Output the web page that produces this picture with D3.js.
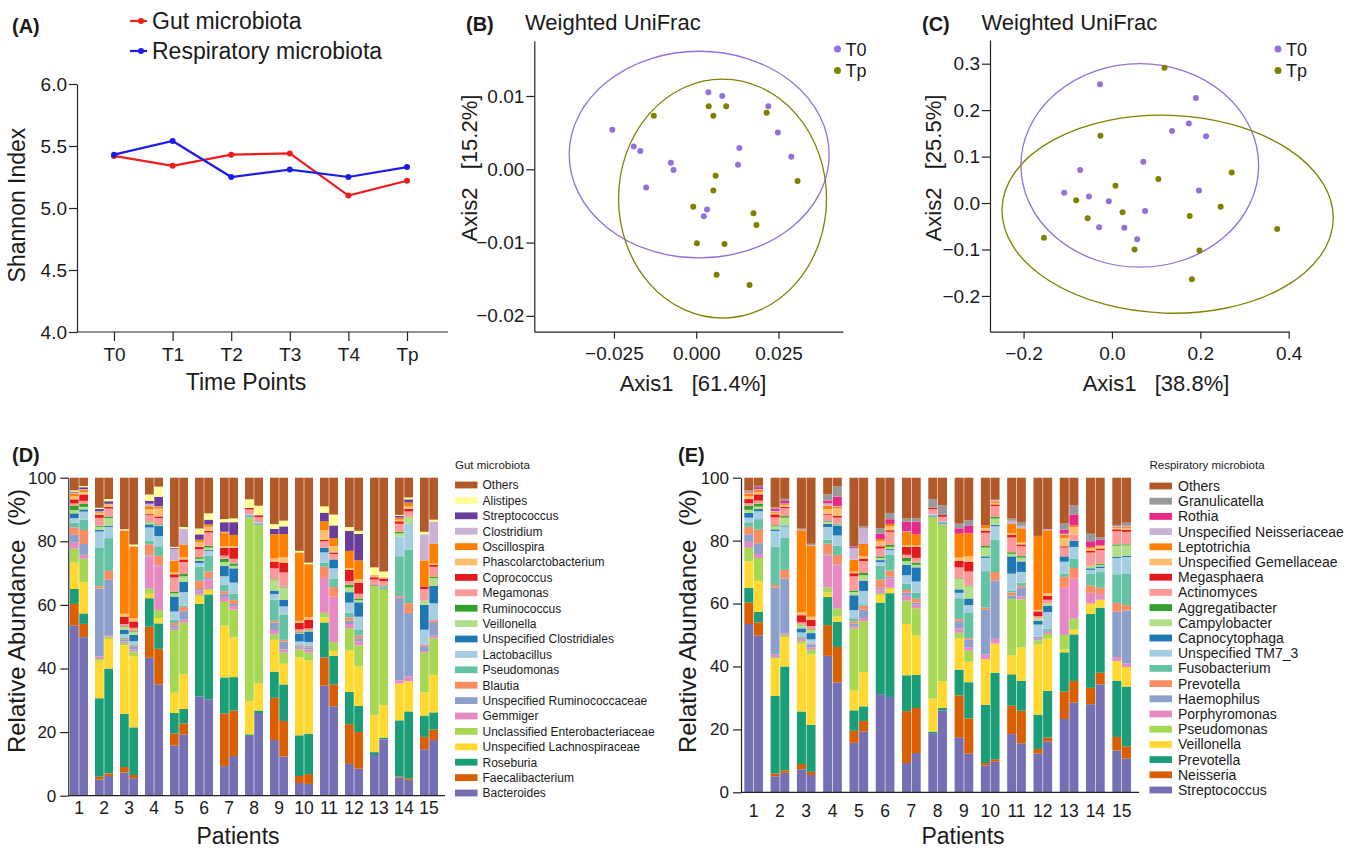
<!DOCTYPE html>
<html>
<head>
<meta charset="utf-8">
<script src="https://cdn.jsdelivr.net/npm/d3@7"></script>
<style>
body{margin:0;background:#fff}
text{font-family:"Liberation Sans",Arial,sans-serif;fill:#1a1a1a}
.axis path,.axis line{stroke:#222;stroke-width:1.2}
.axis text{font-family:"Liberation Sans",Arial,sans-serif;fill:#1a1a1a}
</style>
</head>
<body>
<svg id="fig" width="1349" height="848"></svg>
<script>
// ---- (A) Shannon index
const timePoints = ["T0","T1","T2","T3","T4","Tp"]
const gutShannon = [5.42,5.34,5.43,5.44,5.10,5.22]
const respShannon = [5.43,5.54,5.25,5.31,5.25,5.33]

// ---- (B) gut PCoA, weighted UniFrac
const bT0 = [[-0.0255,0.0054],[-0.0190,0.0031],[-0.0170,0.0025],[-0.0152,-0.0025],[-0.0077,0.0009],
             [-0.0069,-0.0001],[0.0037,0.0105],[0.0079,0.0100],[0.0033,-0.0055],[0.0023,-0.0064],
             [0.0131,0.0029],[0.0127,0.0006],[0.0219,0.0086],[0.0248,0.0050],[0.0289,0.0017]]
const bTp = [[-0.0129,0.0073],[0.0038,0.0086],[0.0052,0.0073],[0.0091,0.0086],[0.0214,0.0077],
             [0.0059,-0.0009],[0.0052,-0.0029],[0.0308,-0.0016],[-0.0009,-0.0051],[0.0174,-0.0060],
             [0.0183,-0.0076],[0.0002,-0.0101],[0.0086,-0.0102],[0.0062,-0.0144],[0.0162,-0.0158]]
// cx, cy, rx, ry, rotation (deg)
const bEllipseT0 = [0.0009,0.0020,0.0395,0.0141,0]
const bEllipseTp = [0.0080,-0.0040,0.0316,0.0163,0]

// ---- (C) respiratory PCoA, weighted UniFrac
const cT0 = [[-0.027,0.256],[0.190,0.226],[0.174,0.171],[0.136,0.155],[0.213,0.144],
             [0.071,0.089],[-0.072,0.071],[-0.108,0.022],[-0.052,0.014],[-0.007,0.004],
             [0.197,0.027],[0.075,-0.017],[-0.029,-0.052],[0.028,-0.053],[0.057,-0.078]]
const cTp = [[0.119,0.291],[-0.026,0.145],[0.271,0.066],[0.105,0.052],[0.008,0.037],
             [-0.081,0.006],[0.024,-0.020],[-0.055,-0.033],[0.176,-0.028],[0.246,-0.008],
             [0.374,-0.056],[-0.154,-0.075],[0.051,-0.100],[0.198,-0.102],[0.181,-0.164]]
const cEllipseT0 = [0.063,0.081,0.269,0.219,0]
const cEllipseTp = [0.126,-0.024,0.375,0.213,2]

// ---- (D) gut taxa, bottom to top
const patients = d3.range(1,16)
const gutTaxa = ["Bacteroides","Faecalibacterium","Roseburia","Unspecified Lachnospiraceae",
  "Unclassified Enterobacteriaceae","Gemmiger","Unspecified Ruminococcaceae","Blautia","Pseudomonas",
  "Lactobacillus","Unspecified Clostridiales","Veillonella","Ruminococcus","Megamonas","Coprococcus",
  "Phascolarctobacterium","Oscillospira","Clostridium","Streptococcus","Alistipes","Others"]
const gutColors = ["#7570b3","#d95f02","#1b9e77","#ffd92f","#a6d854","#e78ac3","#8da0cb","#fc8d62",
  "#66c2a5","#a6cee3","#1f78b4","#b2df8a","#33a02c","#fb9a99","#e31a1c","#fdbf6f","#ff7f00","#cab2d6",
  "#6a3d9a","#ffff99","#b15928"]
const gutT0 = [
 [53.5,6.8,4.7,8.4,4.3,1.9,2.4,2.4,1.4,1.5,1.5,1.0,1.3,0.8,1.3,1.0,0.8,0.3,0.3,0.4,4.0],
 [5.1,0.9,24.8,11.9,0.5,0.8,21.4,0.8,12.3,5.0,0.5,1.0,0.3,2.5,1.0,0.5,0.3,0.3,0.7,0.4,9.5],
 [7.3,1.7,16.7,21.6,0.7,0.5,0.5,0.3,0.3,1.2,1.3,1.0,0.2,0.7,2.3,0.9,26.1,0.2,0,0.3,16.2],
 [43.5,9.8,9.0,1.4,1.6,10.2,0.3,3.5,1.2,4.1,1.0,0.7,0.2,2.0,0.3,1.5,1.0,0.8,0.9,2.0,5.3],
 [15.7,3.8,6.5,6.3,19.7,0.7,0.8,0.7,1.0,2.6,4.7,1.0,0.5,4.5,1.0,0.5,3.8,3.7,0.3,0.3,21.7],
 [31.2,0,29.1,2.4,0.6,1.2,0.5,2.6,4.4,1.2,0.6,0.7,0.5,2.5,0.7,1.6,0.7,0,1.7,1.8,16.0],
 [9.3,16.5,11.4,16.3,7.5,1.5,1.0,0.8,2.0,2.7,3.3,1.2,1.0,1.0,2.5,0.5,4.3,0.2,3.0,1.0,13.0],
 [18.8,0,0.5,10.5,57.7,0,0.5,0,0.3,0.2,0,0,0,1.5,0.5,0,0,0,0,2.7,6.8],
 [17.5,13.3,8.2,10.0,1.7,1.4,2.3,0.6,6.7,1.7,1.1,3.3,0.2,3.5,2.1,1.0,7.6,0,1.7,1.5,14.6],
 [4.0,2.2,12.8,24.5,2.5,0.5,0.5,0.3,0.3,0.9,2.5,0.3,0.2,0.8,2.0,0.7,21.5,0,0,0.5,23.0],
 [34.6,8.9,11.0,1.5,1.5,11.0,0,3.5,1.2,3.3,1.5,0,0,2.0,0.5,3.0,2.8,0,2.7,2.0,9.0],
 [10.0,12.5,10.1,13.1,7.0,1.3,1.0,1.0,1.5,3.2,3.3,1.5,0.8,1.2,3.5,0.5,5.5,0,6.3,1.2,15.5],
 [12.8,0,0.9,11.6,40.6,0,0.4,0.5,0,0,0,0,0,1.2,0.7,0.8,0,0,0,2.3,28.2],
 [5.7,0.3,17.7,11.6,0,1.0,26.0,0.5,12.5,6.2,0,1.0,0.5,2.5,0.8,0.5,0.7,0,0.5,0.3,11.7],
 [14.6,3.9,6.7,7.3,12.5,0.5,1.5,0.5,0,4.7,7.8,1.3,0,3.7,0.8,0,8.2,8.2,0,0.8,17.0]]
const gutTp = [
 [50.0,4.2,3.3,9.9,7.3,1.3,3.4,4.4,3.3,2.5,0.7,0.8,0.9,1.0,2.0,0.8,0.6,0.3,0.6,0.4,2.6],
 [6.2,0.8,33.0,9.3,0.7,0.5,17.5,2.7,10.3,3.5,0.3,2.5,0.5,2.5,0.5,0.5,0.3,0.2,0.8,0.7,6.7],
 [5.5,1.0,15.0,22.3,1.5,0.7,1.0,0.3,0.3,1.0,2.0,1.0,0.2,1.0,2.0,1.0,22.5,0.2,0,0.5,21.0],
 [35.0,11.3,8.0,1.7,2.5,13.8,0.3,3.0,3.0,3.2,3.2,0.3,0.2,2.0,0.5,2.5,0.5,0.2,3.0,3.2,2.8],
 [19.3,3.4,4.6,10.9,16.2,1.0,2.6,1.3,0.5,4.2,3.3,1.7,0.7,3.8,0.8,0.7,4.0,5.0,0,0.5,15.5],
 [30.3,0,33.0,1.4,0.3,3.0,0.5,2.0,5.0,1.5,0.3,0.7,0.6,4.2,0.5,1.3,0.7,0,1.5,2.0,11.2],
 [12.5,14.3,10.5,12.5,8.7,1.1,0.7,1.2,2.0,3.5,4.5,0.8,0.7,1.5,3.5,0.5,3.5,0,4.0,1.2,12.8],
 [26.0,0,0.8,8.5,49.8,0,0.5,0,0.3,0.2,0,0,0,1.5,0.6,0,0,0,0,3.0,8.8],
 [12.3,11.2,11.5,6.5,3.5,1.0,2.5,0.5,8.0,2.5,2.1,3.9,0.2,4.5,3.1,1.7,7.3,0,2.4,1.8,13.5],
 [3.7,3.1,12.7,23.0,2.5,1.0,0.5,0.3,0.3,1.2,3.2,0.2,0.2,0.7,2.7,0.9,16.6,0,0,0.5,26.7],
 [28.0,7.0,9.0,1.5,2.8,14.3,0,3.0,2.7,3.2,2.8,0,0,1.7,0.5,2.0,2.5,0,4.0,3.4,11.6],
 [8.5,11.5,8.2,12.5,6.6,1.3,0.9,0.8,2.0,4.0,4.5,0.7,0.5,1.5,3.5,1.0,6.0,0,8.3,1.0,16.7],
 [17.7,0,0.6,10.2,36.5,0,0.5,0,0.5,0,0,0,0,1.5,0.8,0.4,0,0,0,1.8,29.5],
 [5.0,0.5,21.0,9.5,0,1.5,20.0,3.0,16.8,8.2,0,2.2,0,1.7,0.8,0.8,1.2,0,1.0,0.6,6.2],
 [17.5,3.3,5.4,11.8,11.5,1.0,4.1,0.6,0,5.3,5.5,2.4,0.4,3.2,0.6,0.4,6.3,6.9,0,0.6,13.2]]

// ---- (E) respiratory taxa, bottom to top
const respTaxa = ["Streptococcus","Neisseria","Prevotella","Veillonella","Pseudomonas","Porphyromonas",
  "Haemophilus","Prevotella","Fusobacterium","Unspecified TM7_3","Capnocytophaga","Campylobacter",
  "Aggregatibacter","Actinomyces","Megasphaera","Unspecified Gemellaceae","Leptotrichia",
  "Unspecified Neisseriaceae","Rothia","Granulicatella","Others"]
const respColors = ["#7570b3","#d95f02","#1b9e77","#ffd92f","#a6d854","#e78ac3","#8da0cb","#fc8d62",
  "#66c2a5","#a6cee3","#1f78b4","#b2df8a","#33a02c","#fb9a99","#e31a1c","#fdbf6f","#ff7f00","#cab2d6",
  "#e7298a","#999999","#b15928"]
const respT0 = [
 [53.5,6.8,4.7,8.4,4.3,1.9,2.4,2.4,1.4,1.5,1.5,1.0,1.3,0.8,1.3,1.0,0.8,0.3,0.3,0.4,4.0],
 [5.1,0.9,24.8,11.9,0.5,0.8,21.4,0.8,12.3,5.0,0.5,1.0,0.3,2.5,1.0,0.5,0.3,0.3,0.7,0.4,9.5],
 [7.3,1.7,16.7,21.6,0.7,0.5,0.5,0.3,0.3,1.2,1.3,1.0,0.2,0.7,2.3,0.9,26.1,0.2,0,0.3,16.2],
 [43.5,9.8,9.0,1.4,1.6,10.2,0.3,3.5,1.2,4.1,1.0,0.7,0.2,2.0,0.3,1.5,1.0,0.8,0.9,2.0,5.3],
 [15.7,3.8,6.5,6.3,19.7,0.7,0.8,0.7,1.0,2.6,4.7,1.0,0.5,4.5,1.0,0.5,3.8,3.7,0.3,0.3,21.7],
 [31.2,0,29.1,2.4,0.6,1.2,0.5,2.6,4.4,1.2,0.6,0.7,0.5,2.5,0.7,1.6,0.7,0,1.7,1.8,16.0],
 [9.3,16.5,11.4,16.3,7.5,1.5,1.0,0.8,2.0,2.7,3.3,1.2,1.0,1.0,2.5,0.5,4.3,0.2,3.0,1.0,13.0],
 [18.8,0,0.5,10.5,57.7,0,0.5,0,0.3,0.2,0,0,0,1.5,0.5,0,0,0,0,2.7,6.8],
 [17.5,13.3,8.2,10.0,1.7,1.4,2.3,0.6,6.7,1.7,1.1,3.3,0.2,3.5,2.1,1.0,7.6,0,1.7,1.5,14.6],
 [8.5,0.8,18.5,14.5,0,1.5,14.2,0.7,11.6,4.2,0.5,2.8,0.5,4.2,0.7,0.8,0.8,0,0,0,15.2],
 [18.5,9.0,10.0,6.0,18.0,0,1.0,1.0,0.5,5.5,5.5,0.8,0.5,4.7,0.8,0.5,3.0,1.0,0,0.7,13.0],
 [12.3,1.5,10.9,22.3,1.3,0.5,0.7,0,0,3.8,1.2,0.8,0,0.7,1.5,0.5,23.5,0,0,0,18.5],
 [23.3,8.7,12.5,1.0,4.5,15.0,0,3.5,1.0,3.8,1.7,0,0,2.8,0.4,2.6,1.0,0.4,1.3,2.0,14.5],
 [28.0,5.2,23.5,3.3,0,3.4,0,2.3,3.8,1.2,0.5,0.8,0,4.2,0.5,0.8,0.5,0,1.8,2.4,17.8],
 [13.3,4.3,17.9,6.2,0,1.3,14.5,2.7,9.1,5.2,0.3,3.6,0.4,4.2,0.6,0.4,0.3,0.3,0,0.4,15.0]]
const respTp = [
 [50.0,4.2,3.3,9.9,7.3,1.3,3.4,4.4,3.3,2.5,0.7,0.8,0.9,1.0,2.0,0.8,0.6,0.3,0.6,0.4,2.6],
 [6.2,0.8,33.0,9.3,0.7,0.5,17.5,2.7,10.3,3.5,0.3,2.5,0.5,2.5,0.5,0.5,0.3,0.2,0.8,0.7,6.7],
 [5.5,1.0,15.0,22.3,1.5,0.7,1.0,0.3,0.3,1.0,2.0,1.0,0.2,1.0,2.0,1.0,22.5,0.2,0,0.5,21.0],
 [35.0,11.3,8.0,1.7,2.5,13.8,0.3,3.0,3.0,3.2,3.2,0.3,0.2,2.0,0.5,2.5,0.5,0.2,3.0,3.2,2.8],
 [19.3,3.4,4.6,10.9,16.2,1.0,2.6,1.3,0.5,4.2,3.3,1.7,0.7,3.8,0.8,0.7,4.0,5.0,0,0.5,15.5],
 [30.3,0,33.0,1.4,0.3,3.0,0.5,2.0,5.0,1.5,0.3,0.7,0.6,4.2,0.5,1.3,0.7,0,1.5,2.0,11.2],
 [12.5,14.3,10.5,12.5,8.7,1.1,0.7,1.2,2.0,3.5,4.5,0.8,0.7,1.5,3.5,0.5,3.5,0,4.0,1.2,12.8],
 [26.0,0,0.8,8.5,49.8,0,0.5,0,0.3,0.2,0,0,0,1.5,0.6,0,0,0,0,3.0,8.8],
 [12.3,11.2,11.5,6.5,3.5,1.0,2.5,0.5,8.0,2.5,2.1,3.9,0.2,4.5,3.1,1.7,7.3,0,2.4,1.8,13.5],
 [9.7,0.8,27.5,9.3,0,1.5,18.5,2.7,10.3,4.3,0.4,2.0,0.5,3.5,0.5,0.5,0.5,0.5,0,0,7.0],
 [15.5,10.3,9.4,10.6,15.2,1.0,2.7,0.6,1.0,3.4,3.3,1.2,0.5,3.1,0.6,0.6,4.5,0.8,0,1.2,14.0],
 [16.2,1.2,14.8,16.7,1.4,0.7,0.5,0,0.5,5.3,2.0,0.7,0,1.2,1.3,0.8,20.0,0.4,0,0,16.3],
 [28.5,6.9,14.8,1.5,3.5,12.8,0,3.3,2.9,3.8,2.0,0,0,2.0,0,2.3,0.5,0,3.5,2.9,8.8],
 [34.3,3.7,20.7,2.5,0,1.8,0,2.0,5.0,1.3,0.5,0.5,0.4,4.3,0.5,0.7,0.3,0,1.7,0.8,19.0],
 [10.7,3.9,19.0,6.2,0,1.2,16.8,1.7,9.9,5.4,0.4,3.3,0.3,4.0,0.6,0.6,0.3,0.4,0,1.0,14.3]]

const svg = d3.select("#fig")

function panel_label(txt, x, y){
    svg.append("text").attr("x",x).attr("y",y)
        .attr("font-size",20).attr("font-weight","bold").text(txt)
}

function vlabel(txt, x, y, size){
    svg.append("text")
        .attr("transform",`translate(${x},${y}) rotate(-90)`)
        .attr("text-anchor","middle").attr("font-size",size).text(txt)
}

// (A)
function line_panel(){
    let x = d3.scalePoint().domain(timePoints).range([114,407])
    let y = d3.scaleLinear().domain([4,6]).range([332,84])
    let g = svg.append("g")

    g.append("g").attr("class","axis").attr("transform","translate(0,332)")
        .call(d3.axisBottom(x).tickSize(9).tickPadding(7).tickSizeOuter(0))
        .call(a => a.select(".domain").attr("d","M77,0H448"))
        .attr("font-size",19)
    g.append("g").attr("class","axis").attr("transform","translate(77,0)")
        .call(d3.axisLeft(y).tickValues([4,4.5,5,5.5,6]).tickFormat(d3.format(".1f"))
              .tickSize(8).tickPadding(2).tickSizeOuter(0))
        .attr("font-size",19)

    let series = [{v:gutShannon,c:"#f01c1c"},{v:respShannon,c:"#1c1ce8"}]
    series.forEach(function(s){
        g.append("path").datum(s.v)
            .attr("fill","none").attr("stroke",s.c).attr("stroke-width",2.2)
            .attr("d",d3.line().x((d,i)=>x(timePoints[i])).y(d=>y(d)))
        g.selectAll(null).data(s.v).enter().append("circle")
            .attr("cx",(d,i)=>x(timePoints[i])).attr("cy",d=>y(d))
            .attr("r",3).attr("fill",s.c)
    })

    // legend
    let leg = [["Gut microbiota","#f01c1c"],["Respiratory microbiota","#1c1ce8"]]
    leg.forEach(function(d,i){
        let yy = 21 + i*30
        g.append("line").attr("x1",130).attr("x2",147).attr("y1",yy).attr("y2",yy)
            .attr("stroke",d[1]).attr("stroke-width",2.2)
        g.append("circle").attr("cx",141).attr("cy",yy).attr("r",3).attr("fill",d[1])
        g.append("text").attr("x",152).attr("y",yy+7.5).attr("font-size",23).text(d[0])
    })

    g.append("text").attr("x",246).attr("y",390).attr("text-anchor","middle")
        .attr("font-size",23).text("Time Points")
    vlabel("Shannon Index",25,205,23)
    panel_label("(A)",12,33)
}

// (B) and (C)
function pcoa_panel(t0, tp, eT0, eTp, o){
    let x = d3.scaleLinear().domain(o.xDom).range(o.xRange)
    let y = d3.scaleLinear().domain(o.yDom).range(o.yRange)
    let g = svg.append("g")

    g.append("g").attr("class","axis").attr("transform",`translate(0,${o.yRange[0]})`)
        .call(d3.axisBottom(x).tickValues(o.xTicks).tickFormat(d3.format(o.xFmt))
              .tickSize(7).tickPadding(8).tickSizeOuter(0))
        .attr("font-size",19)
    g.append("g").attr("class","axis").attr("transform",`translate(${o.xRange[0]},0)`)
        .call(d3.axisLeft(y).tickValues(o.yTicks).tickFormat(d3.format(o.yFmt))
              .tickSize(8).tickPadding(2).tickSizeOuter(0))
        .attr("font-size",19)

    let groups = [{pts:t0,e:eT0,c:"#9370db"},{pts:tp,e:eTp,c:"#808000"}]
    groups.forEach(function(s){
        let cx = x(s.e[0]), cy = y(s.e[1])
        g.append("ellipse")
            .attr("cx",cx).attr("cy",cy)
            .attr("rx",x(s.e[0]+s.e[2])-cx).attr("ry",cy-y(s.e[1]+s.e[3]))
            .attr("transform",`rotate(${s.e[4]},${cx},${cy})`)
            .attr("fill","none").attr("stroke",s.c).attr("stroke-width",1.3)
    })
    groups.forEach(function(s){
        g.selectAll(null).data(s.pts).enter().append("circle")
            .attr("cx",d=>x(d[0])).attr("cy",d=>y(d[1]))
            .attr("r",3).attr("fill",s.c)
    })

    ;[["T0","#9370db"],["Tp","#808000"]].forEach(function(d,i){
        g.append("circle").attr("cx",o.legX).attr("cy",49+i*21.5).attr("r",3.5).attr("fill",d[1])
        g.append("text").attr("x",o.legX+8).attr("y",55.5+i*21.5).attr("font-size",18).text(d[0])
    })

    g.append("text").attr("x",o.titleX).attr("y",29.5).attr("font-size",22).text("Weighted UniFrac")
    g.append("text").attr("x",o.xLabX).attr("y",391).attr("text-anchor","middle")
        .attr("font-size",22).text(o.xLab)
    vlabel(o.yLab,o.yLabX,168,22)
    panel_label(o.tag,o.tagX,31)
}

// (D) and (E)
function bar_panel(t0Rows, tpRows, names, colors, o){
    let rows = []
    patients.forEach(function(p,i){
        rows.push({p:p,t:"T0",v:t0Rows[i]})
        rows.push({p:p,t:"Tp",v:tpRows[i]})
    })
    let stack = d3.stack().keys(d3.range(names.length))
        .value((d,k)=>d.v[k]).offset(d3.stackOffsetExpand)(rows)

    let x = d3.scaleBand().domain(patients).range(o.bandRange)
        .paddingInner(o.pad).paddingOuter(o.pad/2)
    let xs = d3.scaleBand().domain(["T0","Tp"]).range([0,x.bandwidth()]).paddingInner(0.06)
    let y = d3.scaleLinear().domain([0,1]).range([o.y0,o.y1])
    let g = svg.append("g")

    stack.forEach(function(s,k){
        g.selectAll(null).data(s).enter().append("rect")
            .attr("x",d=>x(d.data.p)+xs(d.data.t))
            .attr("width",xs.bandwidth())
            .attr("y",d=>y(d[1]))
            .attr("height",d=>Math.max(0,y(d[0])-y(d[1])))
            .attr("fill",colors[k])
    })

    g.append("g").attr("class","axis").attr("transform",`translate(0,${o.y0})`)
        .call(d3.axisBottom(x).tickSize(0).tickPadding(o.xPad))
        .call(a => a.select(".domain").attr("d",`M${o.axisX},0H${o.axisEnd}`))
        .attr("font-size",17.5)
    g.append("g").attr("class","axis").attr("transform",`translate(${o.axisX},0)`)
        .call(d3.axisLeft(y).tickValues([0,0.2,0.4,0.6,0.8,1]).tickFormat(d=>Math.round(d*100))
              .tickSize(8).tickPadding(4).tickSizeOuter(0))
        .attr("font-size",17)

    // legend, "Others" on top
    let lg = g.append("g")
    lg.append("text").attr("x",o.legX).attr("y",469).attr("font-size",11.5).text(o.legTitle)
    d3.range(names.length).reverse().forEach(function(k,i){
        let yy = o.legY + i*o.legStep
        lg.append("rect").attr("x",o.legX).attr("y",yy-3.4).attr("width",22.5).attr("height",6.8)
            .attr("fill",colors[k])
        lg.append("text").attr("x",o.legX+o.legTextDx).attr("y",yy+o.legFont*0.36)
            .attr("font-size",o.legFont).text(names[k])
    })

    g.append("text").attr("x",o.patX).attr("y",844).attr("text-anchor","middle")
        .attr("font-size",23).text("Patients")
    vlabel("Relative Abundance\u00a0 (%)",o.yLabX,621,24)
    panel_label(o.tag,o.tagX,462)
}

line_panel()

pcoa_panel(bT0,bTp,bEllipseT0,bEllipseTp,{
    xDom:[-0.0492,0.0446], xRange:[534.3,843], yDom:[-0.02216,0.01754], yRange:[331.7,40.7],
    xTicks:[-0.025,0,0.025], yTicks:[-0.02,-0.01,0,0.01], xFmt:".3f", yFmt:".2f",
    legX:837.5, titleX:525, xLab:"Axis1\u00a0\u00a0\u00a0[61.4%]", xLabX:693,
    yLab:"Axis2\u00a0\u00a0\u00a0[15.2%]", yLabX:477, tag:"(B)", tagX:466})

pcoa_panel(cT0,cTp,cEllipseT0,cEllipseTp,{
    xDom:[-0.276,0.4007], xRange:[990,1289], yDom:[-0.277,0.351], yRange:[331.7,40],
    xTicks:[-0.2,0,0.2,0.4], yTicks:[-0.2,-0.1,0,0.1,0.2,0.3], xFmt:".1f", yFmt:".1f",
    legX:1278, titleX:981.5, xLab:"Axis1\u00a0\u00a0\u00a0[38.8%]", xLabX:1156,
    yLab:"Axis2\u00a0\u00a0\u00a0[25.5%]", yLabX:941, tag:"(C)", tagX:922})

bar_panel(gutT0,gutTp,gutTaxa,gutColors,{
    bandRange:[66.5,441.5], pad:0.28, y0:795.7, y1:477.7, axisX:68.3, axisEnd:445, xPad:6,
    legX:455, legY:485, legStep:15.4, legFont:12, legTextDx:27.5, legTitle:"Gut microbiota",
    patX:238, yLabX:25, tag:"(D)", tagX:12})

bar_panel(respT0,respTp,respTaxa,respColors,{
    bandRange:[740.5,1134.8], pad:0.29, y0:792.3, y1:477.7, axisX:741, axisEnd:1139, xPad:12,
    legX:1149.5, legY:486, legStep:15.2, legFont:14, legTextDx:28.5, legTitle:"Respiratory microbiota",
    patX:963, yLabX:696, tag:"(E)", tagX:678})
</script>
</body>
</html>
